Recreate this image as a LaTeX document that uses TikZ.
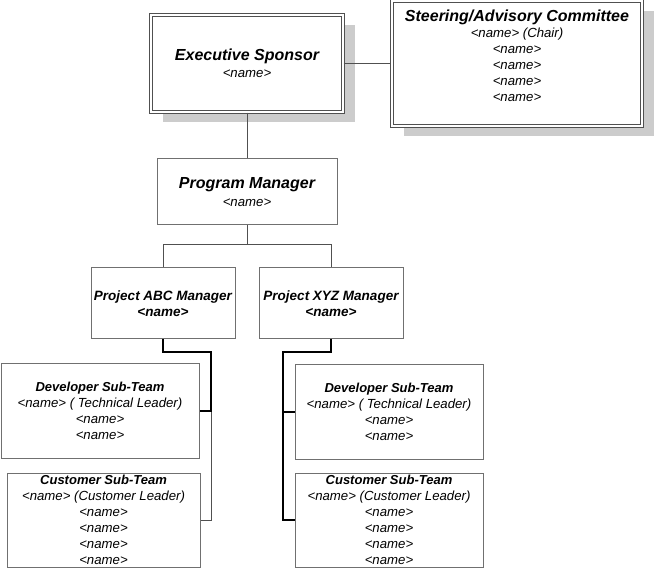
\documentclass[tikz,border=0pt]{standalone}
\usepackage{fontspec}
\setmainfont{Liberation Sans}
\usetikzlibrary{shadows}
\definecolor{boxline}{HTML}{707070}
\definecolor{conn}{HTML}{505050}
\definecolor{shade}{HTML}{CCCCCC}
\newcommand{\bigtitle}[1]{{\fontsize{16}{18}\selectfont\bfseries\itshape #1}}
\newcommand{\midtitle}[1]{{\fontsize{13.5}{16}\selectfont\bfseries\itshape #1}}
\newcommand{\smalltitle}[1]{{\fontsize{13}{16}\selectfont\bfseries\itshape #1}}
\tikzset{
  box/.style={draw=boxline, line width=1pt, fill=white, inner sep=0pt, align=center,
    font=\fontsize{13.2}{16}\selectfont\itshape},
  bigbox/.style={box, draw=conn, double=white, double distance=1.2pt, line width=1.1pt,
    drop shadow={shadow xshift=12pt, shadow yshift=-10pt, fill=shade, opacity=1}},
  thinconn/.style={draw=conn, line width=1pt},
  thickconn/.style={draw=black, line width=2pt},
}
\begin{document}
\begin{tikzpicture}[x=1pt, y=-1pt]
\useasboundingbox (0,0) rectangle (656,569);
\node[bigbox, minimum width=192, minimum height=97] (exec) at (247,63.5)
  {\bigtitle{Executive Sponsor}\\[1pt] <name>};
\node[bigbox, minimum width=250, minimum height=125] (steer) at (517,63.5)
  {\bigtitle{Steering/Advisory Committee}\\ <name> (Chair)\\ <name>\\ <name>\\ <name>\\ <name>\\ \mbox{}};
\node[box, minimum width=180, minimum height=66] (pm) at (247,192)
  {\bigtitle{Program Manager}\\[2pt] <name>};
\node[box, minimum width=144, minimum height=71] (abc) at (163,303.5)
  {\midtitle{Project ABC Manager}\\ \midtitle{<name>}};
\node[box, minimum width=144, minimum height=71] (xyz) at (331,303.5)
  {\midtitle{Project XYZ Manager}\\ \midtitle{<name>}};
\node[box, minimum width=198, minimum height=95] (ldev) at (100,410.5)
  {\smalltitle{Developer Sub-Team}\\ <name> ( Technical Leader)\\ <name>\\ <name>};
\node[box, minimum width=193, minimum height=94] (lcust) at (103.5,520)
  {\smalltitle{Customer Sub-Team}\\ <name> (Customer Leader)\\ <name>\\ <name>\\ <name>\\ <name>};
\node[box, minimum width=188, minimum height=95] (rdev) at (389,411.5)
  {\smalltitle{Developer Sub-Team}\\ <name> ( Technical Leader)\\ <name>\\ <name>};
\node[box, minimum width=188, minimum height=94] (rcust) at (389,520)
  {\smalltitle{Customer Sub-Team}\\ <name> (Customer Leader)\\ <name>\\ <name>\\ <name>\\ <name>};
% connectors
\draw[thinconn] (exec.east) -- (steer.west);
\draw[thinconn] (exec.south) -- (pm.north);
\draw[thinconn] (pm.south) -- ++(0,19) coordinate (bus) -| (abc.north);
\draw[thinconn] (bus) -| (xyz.north);
\coordinate (lt) at (211,352);
\coordinate (rt) at (283,352);
\draw[thinconn] (lt |- ldev.east) |- (lcust.east);
\draw[thickconn] (abc.south) |- (lt) |- (ldev.east);
\draw[thickconn] (xyz.south) |- (rt) |- (rcust.west);
\draw[thickconn] (rt |- rdev.west) -- (rdev.west);
\end{tikzpicture}
\end{document}
